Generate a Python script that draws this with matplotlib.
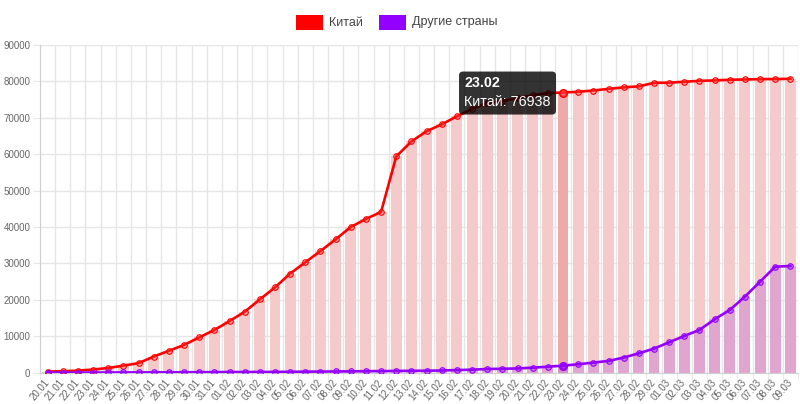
import matplotlib
matplotlib.use('Agg')
import matplotlib.pyplot as plt
from matplotlib.patches import Rectangle, FancyBboxPatch
from matplotlib.transforms import IdentityTransform

plt.rcParams['font.family'] = ['Liberation Sans', 'DejaVu Sans']

dates = ['20.01', '21.01', '22.01', '23.01', '24.01', '25.01', '26.01', '27.01', '28.01', '29.01',
         '30.01', '31.01', '01.02', '02.02', '03.02', '04.02', '05.02', '06.02', '07.02', '08.02',
         '09.02', '10.02', '11.02', '12.02', '13.02', '14.02', '15.02', '16.02', '17.02', '18.02',
         '19.02', '20.02', '21.02', '22.02', '23.02', '24.02', '25.02', '26.02', '27.02', '28.02',
         '29.02', '01.03', '02.03', '03.03', '04.03', '05.03', '06.03', '07.03', '08.03', '09.03']

china = [280, 380, 540, 850, 1260, 1920, 2600, 4400, 5980, 7600,
         9660, 11700, 14150, 16700, 20100, 23400, 27200, 30300, 33400, 36600,
         40000, 42200, 44150, 59400, 63500, 66300, 68200, 70400, 72400, 74100,
         74600, 75400, 76200, 76800, 76938, 77150, 77500, 77950, 78350, 78650,
         79600, 79650, 79900, 80150, 80270, 80450, 80540, 80620, 80650, 80720]

others = [4, 6, 10, 18, 30, 40, 55, 65, 80, 95,
          115, 135, 150, 160, 175, 190, 220, 250, 290, 310,
          340, 380, 420, 450, 490, 520, 580, 690, 800, 990,
          1050, 1150, 1350, 1620, 1900, 2290, 2750, 3210, 4120, 5310,
          6590, 8330, 10070, 11720, 14650, 17210, 20870, 24990, 29100, 29290]

series_names = ['Китай', 'Другие страны']
hover_index = 34
y_ticks = [0, 10000, 20000, 30000, 40000, 50000, 60000, 70000, 80000, 90000]

RED = '#ff0000'
PURPLE = '#9400ff'

W, H = 800, 404
fig = plt.figure(figsize=(W / 100, H / 100), dpi=100)
ax = fig.add_axes([40 / W, (H - 372.6) / H, (798 - 40) / W, (372.6 - 45) / H])

xs = list(range(len(dates)))
china_colors = ['#f4caca'] * len(dates)
china_colors[hover_index] = '#eeaaaa'
others_colors = ['#e0a6cf'] * len(dates)
others_colors[hover_index] = '#d98fc0'

ax.bar(xs, china, width=0.72, color=china_colors, zorder=2, linewidth=0)
ax.bar(xs, others, width=0.72, color=others_colors, zorder=2.1, linewidth=0)

ax.plot(xs, china, color=RED, lw=1.9, marker='o', ms=4.0,
        mfc=(1, 0.3, 0.3, 0.3), mec=RED, mew=0.8, zorder=4)
ax.plot(xs, others, color=PURPLE, lw=1.9, marker='o', ms=4.0,
        mfc=(0.58, 0.0, 1.0, 0.3), mec=PURPLE, mew=0.8, zorder=4)
ax.plot([hover_index], [china[hover_index]], marker='o', ms=5.5, mfc=(1, 0.3, 0.3, 0.5),
        mec=RED, mew=1, zorder=5, ls='none')
ax.plot([hover_index], [others[hover_index]], marker='o', ms=5.5, mfc=(0.58, 0, 1, 0.5),
        mec=PURPLE, mew=1, zorder=5, ls='none')

ax.set_xlim(-0.5, len(dates) - 0.5)
ax.set_ylim(0, 90000)
ax.set_yticks(y_ticks)
ax.set_yticklabels([str(v) for v in y_ticks])
ax.set_xticks(xs)
ax.set_xticklabels(dates, rotation=50, ha='right', va='center', rotation_mode='anchor')
ax.set_xticks([i - 0.5 for i in range(len(dates) + 1)], minor=True)

ax.tick_params(axis='x', which='major', length=0, pad=6, labelsize=7, labelcolor='#666666')
ax.tick_params(axis='x', which='minor', length=5, color='#e6e6e6')
ax.tick_params(axis='y', length=5, color='#e6e6e6', pad=2, labelsize=7, labelcolor='#666666')

ax.grid(which='minor', axis='x', color='#e6e6e6', lw=1, zorder=0)
ax.grid(which='major', axis='y', color='#e6e6e6', lw=1, zorder=0)
ax.set_axisbelow(True)
for s in ['top', 'right']:
    ax.spines[s].set_visible(False)
ax.spines['left'].set_color('#d0d0d0')
ax.spines['bottom'].set_color('#d0d0d0')

# Legend (drawn manually in pixel coordinates)
ident = IdentityTransform()
fig.add_artist(Rectangle((296, H - 30), 27, 15, transform=ident, fc=RED, ec='none'))
fig.text(329, H - 22.5, series_names[0], transform=ident, fontsize=9, color='#444444',
         ha='left', va='center')
fig.add_artist(Rectangle((379, H - 30), 27, 15, transform=ident, fc=PURPLE, ec='none'))
fig.text(412, H - 22.5, series_names[1], transform=ident, fontsize=9, color='#444444',
         ha='left', va='center')

# Tooltip
px, py = ax.transData.transform((hover_index, china[hover_index]))
bw, bh = 97, 43
left = px - 7 - bw
bottom = py - 22
fig.add_artist(FancyBboxPatch((left, bottom), bw, bh, boxstyle='round,pad=0,rounding_size=4',
                              transform=ident, fc=(0, 0, 0, 0.8), ec='none', zorder=10))
fig.text(left + 5, py + 10, dates[hover_index], transform=ident, fontsize=10.3,
         fontweight='bold', color='white', ha='left', va='center', zorder=11)
fig.text(left + 5, py - 9, f'{series_names[0]}: {china[hover_index]}', transform=ident,
         fontsize=10.3, color='white', ha='left', va='center', zorder=11)

fig.savefig('out.png', dpi=100)
